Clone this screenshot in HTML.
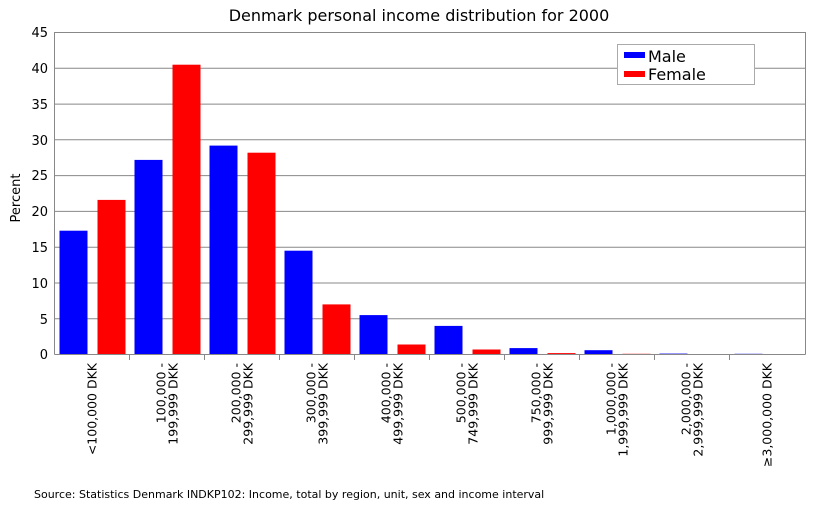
<!DOCTYPE html><html><head><style>body{margin:0;background:#fff}</style></head><body>
<svg width="819" height="512" xmlns="http://www.w3.org/2000/svg" font-family="DejaVu Sans, sans-serif">
<rect width="819" height="512" fill="#fff"/>
<text x="419" y="21" font-size="16" text-anchor="middle" fill="#000">Denmark personal income distribution for 2000</text>
<g stroke="#888" stroke-width="1">
<line x1="54.5" y1="32.5" x2="805" y2="32.5"/><line x1="54.5" y1="68.3" x2="805" y2="68.3"/><line x1="54.5" y1="104.1" x2="805" y2="104.1"/><line x1="54.5" y1="139.8" x2="805" y2="139.8"/><line x1="54.5" y1="175.6" x2="805" y2="175.6"/><line x1="54.5" y1="211.4" x2="805" y2="211.4"/><line x1="54.5" y1="247.2" x2="805" y2="247.2"/><line x1="54.5" y1="283" x2="805" y2="283"/><line x1="54.5" y1="318.7" x2="805" y2="318.7"/>
</g>
<g font-size="13" text-anchor="end" fill="#000">
<text x="48" y="37">45</text><text x="48" y="73">40</text><text x="48" y="109">35</text><text x="48" y="145">30</text><text x="48" y="180">25</text><text x="48" y="216">20</text><text x="48" y="252">15</text><text x="48" y="288">10</text><text x="48" y="324">5</text><text x="48" y="359">0</text>
</g>
<text transform="translate(20,198) rotate(-90)" font-size="13" text-anchor="middle">Percent</text>
<g fill="#00f">
<rect x="59.5" y="230.7" width="28" height="123.8"/>
<rect x="134.5" y="159.9" width="28" height="194.6"/>
<rect x="209.5" y="145.6" width="28" height="208.9"/>
<rect x="284.5" y="250.7" width="28" height="103.8"/>
<rect x="359.5" y="315.1" width="28" height="39.4"/>
<rect x="434.5" y="325.9" width="28" height="28.6"/>
<rect x="509.5" y="348.1" width="28" height="6.4"/>
<rect x="584.5" y="350.2" width="28" height="4.3"/>
<rect x="659.5" y="353.6" width="28" height="0.9"/>
<rect x="734.5" y="353.8" width="28" height="0.7"/>
</g>
<g fill="#f00">
<rect x="97.5" y="199.9" width="28" height="154.6"/>
<rect x="172.5" y="64.7" width="28" height="289.8"/>
<rect x="247.5" y="152.7" width="28" height="201.8"/>
<rect x="322.5" y="304.4" width="28" height="50.1"/>
<rect x="397.5" y="344.5" width="28" height="10"/>
<rect x="472.5" y="349.5" width="28" height="5"/>
<rect x="547.5" y="353.1" width="28" height="1.4"/>
<rect x="622.5" y="353.8" width="28" height="0.7"/>
</g>
<g stroke="#888" stroke-width="1" fill="none">
<line x1="54.5" y1="32" x2="54.5" y2="354.5"/><line x1="805.5" y1="32" x2="805.5" y2="354.5"/><line x1="54.5" y1="354.5" x2="805.5" y2="354.5"/>
<line x1="129.5" y1="354" x2="129.5" y2="360"/><line x1="204.5" y1="354" x2="204.5" y2="360"/><line x1="279.5" y1="354" x2="279.5" y2="360"/><line x1="354.5" y1="354" x2="354.5" y2="360"/><line x1="429.5" y1="354" x2="429.5" y2="360"/><line x1="504.5" y1="354" x2="504.5" y2="360"/><line x1="579.5" y1="354" x2="579.5" y2="360"/><line x1="654.5" y1="354" x2="654.5" y2="360"/><line x1="729.5" y1="354" x2="729.5" y2="360"/>
</g>
<g font-size="12.5" text-anchor="end" fill="#000">
<text transform="translate(96.5,363) rotate(-90)">&lt;100,000 DKK</text>
<text transform="translate(165.5,363) rotate(-90)">100,000 -</text><text transform="translate(177.5,363) rotate(-90)">199,999 DKK</text>
<text transform="translate(240.5,363) rotate(-90)">200,000 -</text><text transform="translate(252.5,363) rotate(-90)">299,999 DKK</text>
<text transform="translate(315.5,363) rotate(-90)">300,000 -</text><text transform="translate(327.5,363) rotate(-90)">399,999 DKK</text>
<text transform="translate(390.5,363) rotate(-90)">400,000 -</text><text transform="translate(402.5,363) rotate(-90)">499,999 DKK</text>
<text transform="translate(465.5,363) rotate(-90)">500,000 -</text><text transform="translate(477.5,363) rotate(-90)">749,999 DKK</text>
<text transform="translate(540.5,363) rotate(-90)">750,000 -</text><text transform="translate(552.5,363) rotate(-90)">999,999 DKK</text>
<text transform="translate(615.5,363) rotate(-90)">1,000,000 -</text><text transform="translate(627.5,363) rotate(-90)">1,999,999 DKK</text>
<text transform="translate(690.5,363) rotate(-90)">2,000,000 -</text><text transform="translate(702.5,363) rotate(-90)">2,999,999 DKK</text>
<text transform="translate(771.5,363) rotate(-90)">≥3,000,000 DKK</text>
</g>
<rect x="617.5" y="44.5" width="137" height="40" fill="#fff" stroke="#aaa"/>
<rect x="624" y="52" width="21" height="6" fill="#00f"/><rect x="624" y="71" width="21" height="6" fill="#f00"/>
<text x="648" y="62" font-size="16">Male</text><text x="648" y="80" font-size="16">Female</text>
<text x="34" y="498" font-size="11">Source: Statistics Denmark INDKP102: Income, total by region, unit, sex and income interval</text>
</svg></body></html>
